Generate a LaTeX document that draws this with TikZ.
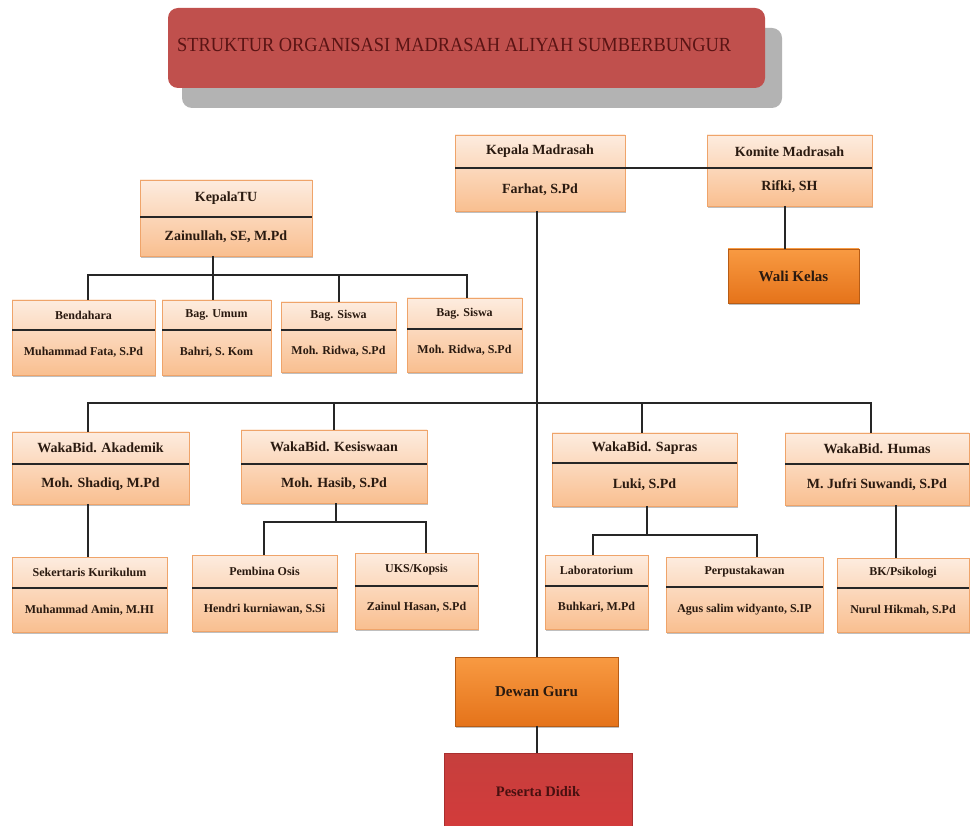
\documentclass[tikz,border=0pt]{standalone}
\usepackage{fontspec}
\setmainfont{Liberation Serif}
\usetikzlibrary{fit,shadows,calc}
\definecolor{peachT}{HTML}{FDECDF}
\definecolor{peachB}{HTML}{F9BF90}
\definecolor{boxline}{HTML}{EFA46A}
\definecolor{txt}{HTML}{2A1A10}
\definecolor{orT}{HTML}{F89A42}
\definecolor{orB}{HTML}{E5731A}
\definecolor{rdT}{HTML}{C63F3D}
\definecolor{rdB}{HTML}{D33B3B}
\definecolor{titlefill}{HTML}{C0504D}
\definecolor{titletxt}{HTML}{5A1414}
\definecolor{shadowgray}{HTML}{B3B3B3}
\tikzset{
  x=1pt, y=-1pt,
  box/.style={draw=boxline, line width=0.8pt, top color=peachT, bottom color=peachB,
    inner sep=0pt, outer sep=0pt,
    drop shadow={shadow xshift=1pt, shadow yshift=-2pt, opacity=0.25, fill=black}},
  solidor/.style={draw=orB!80!black, line width=0.5pt, top color=orT, bottom color=orB,
    inner sep=0pt, outer sep=0pt, text=txt, font=\bfseries\fontsize{15}{17}\selectfont,
    drop shadow={shadow xshift=1pt, shadow yshift=-2pt, opacity=0.25, fill=black}},
  solidrd/.style={draw=rdB!80!black, line width=0.5pt, top color=rdT, bottom color=rdB,
    inner sep=0pt, outer sep=0pt, text=titletxt!80!black, font=\bfseries\fontsize{14.5}{17}\selectfont},
  divline/.style={line width=1.4pt, black!85},
  conn/.style={line width=1.8pt, black!85},
  big/.style={font=\bfseries\fontsize{14}{16}\selectfont, text=txt, inner sep=0pt},
  small/.style={font=\bfseries\fontsize{12}{14}\selectfont, text=txt, inner sep=0pt},
}
\newcommand\orgbox[9]{%
  \node[box, fit={(#2,#3) (#4,#5)}] (#1) {};
  \coordinate (#1-dw) at (#2,#6);
  \coordinate (#1-de) at (#4,#6);
  \draw[divline] (#1-dw) -- (#1-de);
  \node[#9] (#1-t) at ($(#1.north)!0.5!(#1.north |- #1-dw)$) {#7};
  \node[#9] (#1-p) at ($(#1.south)!0.5!(#1.south |- #1-dw)$) {#8};
}
\begin{document}
\begin{tikzpicture}
\useasboundingbox[fill=white] (0,0) rectangle (970,826);

% title
\node[fill=shadowgray, rounded corners=10pt, fit={(182,28) (782,108)}, inner sep=0pt] (tshadow) {};
\node[fill=titlefill, rounded corners=10pt, fit={(168,8) (765,88)}, inner sep=0pt] (tbox) {};
\node[anchor=west, inner sep=0pt, text=titletxt, font=\fontsize{20}{22}\selectfont] (title) at (177,45) {\scalebox{0.92}[1]{STRUKTUR ORGANISASI MADRASAH ALIYAH SUMBERBUNGUR}};

% top level
\orgbox{kep}{455}{135}{625}{211}{168}{Kepala Madrasah}{Farhat, S.Pd}{big}
\orgbox{kom}{707}{135}{872}{206}{168}{Komite Madrasah}{Rifki, SH}{big}
\node[solidor, minimum width=131pt, minimum height=54pt] (wali) at (793.5,276) {Wali Kelas};
\orgbox{ktu}{140}{180}{312}{256}{217}{KepalaTU}{Zainullah, SE, M.Pd}{big}

% TU staff
\orgbox{bend}{12}{300}{155}{375}{330}{Bendahara}{Muhammad Fata, S.Pd}{small}
\orgbox{umum}{162}{300}{271}{375}{330}{Bag. Umum}{Bahri, S. Kom}{small}
\orgbox{siswa}{281}{302}{396}{372}{330}{Bag. Siswa}{Moh. Ridwa, S.Pd}{small}
\orgbox{siswab}{407}{298}{522}{372}{329}{Bag. Siswa}{Moh. Ridwa, S.Pd}{small}

% waka
\orgbox{aka}{12}{432}{189}{504}{464}{WakaBid. Akademik}{Moh. Shadiq, M.Pd}{big}
\orgbox{kes}{241}{430}{427}{503}{464}{WakaBid. Kesiswaan}{Moh. Hasib, S.Pd}{big}
\orgbox{sap}{552}{433}{737}{506}{463}{WakaBid. Sapras}{Luki, S.Pd}{big}
\orgbox{hum}{785}{433}{969}{505}{464}{WakaBid. Humas}{M. Jufri Suwandi, S.Pd}{big}

% bottom staff
\orgbox{sek}{12}{557}{167}{632}{588}{Sekertaris Kurikulum}{Muhammad Amin, M.HI}{small}
\orgbox{osis}{192}{555}{337}{631}{588}{Pembina Osis}{Hendri kurniawan, S.Si}{small}
\orgbox{uks}{355}{553}{478}{629}{586}{UKS/Kopsis}{Zainul Hasan, S.Pd}{small}
\orgbox{lab}{545}{555}{648}{629}{586}{Laboratorium}{Buhkari, M.Pd}{small}
\orgbox{perp}{666}{557}{823}{632}{587}{Perpustakawan}{Agus salim widyanto, S.IP}{small}
\orgbox{bk}{837}{558}{969}{632}{588}{BK/Psikologi}{Nurul Hikmah, S.Pd}{small}

\node[solidor, minimum width=163pt, minimum height=69pt] (dewan) at (536.5,691.5) {Dewan Guru};
\node[solidrd, minimum width=188pt, minimum height=77pt] (peserta) at (538,791.5) {Peserta Didik};

% connectors
\draw[conn] (kep-de) -- (kom-dw);
\draw[conn] (kom.south -| 785,0) -- (wali.north -| 785,0);
\draw[conn] (kep.south -| 537,0) -- (dewan.north -| 537,0);
\draw[conn] (dewan.south -| 537,0) -- (peserta.north -| 537,0);

% TU tree
\coordinate (tuj) at (213,275);
\draw[conn] (ktu.south -| tuj) -- (tuj);
\draw[conn] (bend.north -| 88,0) |- (tuj) -| (siswab.north -| 467,0);
\draw[conn] (umum.north -| tuj) -- (tuj);
\draw[conn] (siswa.north -| 339,0) -- (tuj -| 339,0);

% waka tree
\coordinate (wj) at (537,403);
\draw[conn] (aka.north -| 88,0) |- (wj) -| (hum.north -| 871,0);
\draw[conn] (kes.north -| 334,0) -- (wj -| 334,0);
\draw[conn] (sap.north -| 642,0) -- (wj -| 642,0);

% sub trees
\draw[conn] (aka.south -| 88,0) -- (sek.north -| 88,0);
\coordinate (kj) at (336,522);
\draw[conn] (kes.south -| kj) -- (kj);
\draw[conn] (osis.north -| 264,0) |- (kj) -| (uks.north -| 426,0);
\coordinate (sj) at (647,535);
\draw[conn] (sap.south -| sj) -- (sj);
\draw[conn] (lab.north -| 593,0) |- (sj) -| (perp.north -| 757,0);
\draw[conn] (hum.south -| 896,0) -- (bk.north -| 896,0);
\end{tikzpicture}
\end{document}
